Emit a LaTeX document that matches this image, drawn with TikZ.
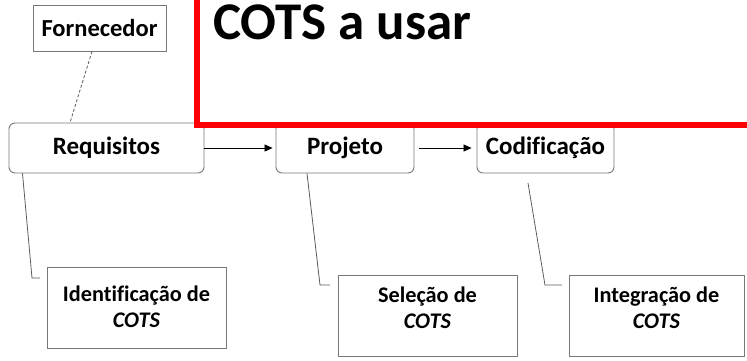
\documentclass[tikz,border=0pt]{standalone}
\usepackage{fontspec}
\setmainfont{Carlito}[Ligatures=NoCommon]
\usetikzlibrary{arrows.meta,calc}
\definecolor{boxgray}{RGB}{120,120,120}
\definecolor{linegray}{RGB}{90,90,90}
\tikzset{
  sqbox/.style={draw=boxgray,line width=0.9pt,fill=white,inner sep=0pt},
  rbox/.style={draw=boxgray,line width=0.9pt,fill=white,rounded corners=6pt,inner sep=0pt,minimum height=50pt,font=\fontsize{25}{30}\selectfont\bfseries},
  boxtext/.style={align=center,inner sep=0pt,font=\fontsize{22.3}{26}\selectfont\bfseries},
  flow/.style={-{Triangle[length=8pt,width=7pt]},line width=0.8pt,black},
  link/.style={linegray,line width=0.8pt},
  dlink/.style={linegray,line width=0.8pt,dash pattern=on 3pt off 2pt},
}
\begin{document}
\begin{tikzpicture}[x=1pt,y=-1pt]
\useasboundingbox (0,0) rectangle (747,361);
% top box
\node[sqbox,minimum width=133pt,minimum height=46pt,font=\fontsize{24.5}{28}\selectfont\bfseries] (forn) at (99.5,28) {Fornecedor};
% process boxes
\node[rbox,minimum width=195pt] (req) at (106.5,148) {Requisitos};
\node[rbox,minimum width=138pt] (proj) at (345,148) {Projeto};
\node[rbox,minimum width=137pt] (cod) at (545.5,148) {Codificação};
% bottom boxes
\node[sqbox,minimum width=179pt,minimum height=81pt] (ident) at (136.5,307.5) {};
\node[boxtext] (identt) at ([yshift=1pt]ident.center) {Identificação de\\\textit{COTS}};
\node[sqbox,minimum width=179pt,minimum height=81pt] (sel) at (427.5,315.5) {};
\node[boxtext] (selt) at ([yshift=8pt]sel.center) {Seleção de\\\textit{COTS}};
\node[sqbox,minimum width=175pt,minimum height=81pt] (integ) at (656.5,315.5) {};
\node[boxtext] (integt) at ([yshift=8pt]integ.center) {Integração de\\\textit{COTS}};
% flow arrows
\draw[flow,shorten >=3pt] (req.east) -- (proj.west);
\draw[flow,shorten <=5pt,shorten >=5pt] (proj.east) -- (cod.west);
% connectors
\draw[dlink] ([xshift=-7.5pt]forn.south) -- ([xshift=-36.5pt]req.north);
\coordinate (a1) at (32,278);
\coordinate (a2) at (40,278);
\draw[link] ([xshift=-84pt]req.south) -- (a1) -- (a2);
\coordinate (b1) at (320,285);
\coordinate (b2) at (330,285);
\draw[link] ([xshift=-38pt]proj.south) -- (b1) -- (b2);
\coordinate (c0) at (528,183);
\coordinate (c1) at (545,285);
\coordinate (c2) at (562,285);
\draw[link] (c0) -- (c1) -- (c2);
% red callout
\node[draw=red,line width=6pt,fill=white,minimum width=570pt,minimum height=150pt,anchor=south west,inner sep=0pt] (callout) at (194,128) {};
\node[anchor=base west,inner sep=0pt,font=\fontsize{53}{60}\selectfont\bfseries] (cotstitle) at (213,40) {COTS a usar};
\end{tikzpicture}
\end{document}
